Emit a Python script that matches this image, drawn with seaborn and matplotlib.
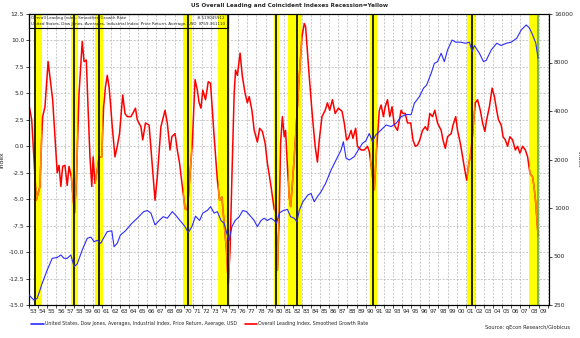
import numpy as np
import pandas as pd
import matplotlib
matplotlib.use("Agg")
import matplotlib.pyplot as plt
from matplotlib.lines import Line2D
from matplotlib.patches import Rectangle
import seaborn as sns

# ---------------- data ----------------
red_x = [1953.0, 1953.3, 1953.8, 1954.2, 1954.4, 1954.5, 1954.75, 1955.1, 1955.6, 1955.9,
         1956.1, 1956.3, 1956.5, 1956.7, 1956.95, 1957.2, 1957.4, 1957.65, 1958.0, 1958.2,
         1958.5, 1958.85, 1959.05, 1959.3, 1959.5, 1959.7, 1959.9, 1960.05, 1960.25, 1960.5,
         1960.7, 1961.0, 1961.2, 1961.4, 1961.6, 1961.8, 1961.95, 1962.15, 1962.45, 1962.7,
         1962.95, 1963.3, 1963.55, 1963.8, 1964.2, 1964.4, 1964.7, 1964.9, 1965.3, 1965.5,
         1965.8, 1966.2, 1966.5, 1966.85, 1967.1, 1967.5, 1967.95, 1968.2, 1968.5, 1968.7,
         1969.05, 1969.3, 1969.55, 1969.85, 1970.15, 1970.4, 1970.65, 1970.95, 1971.25, 1971.5,
         1971.7, 1971.9, 1972.1, 1972.4, 1972.7, 1972.95, 1973.3, 1973.7, 1973.95, 1974.2,
         1974.45, 1974.7, 1974.9, 1975.1, 1975.3, 1975.55, 1975.7, 1975.9, 1976.2, 1976.45,
         1976.75, 1977.0, 1977.2, 1977.5, 1977.75, 1978.1, 1978.35, 1978.65, 1978.95, 1979.2,
         1979.6, 1979.95, 1980.1, 1980.3, 1980.5, 1980.65, 1980.85, 1981.05, 1981.2, 1981.4,
         1981.6, 1981.75, 1981.95, 1982.3, 1982.7, 1983.0, 1983.25, 1983.4, 1983.8, 1984.15,
         1984.45, 1984.7, 1984.9, 1985.2, 1985.55, 1985.8, 1986.05, 1986.35, 1986.65, 1987.0,
         1987.4, 1987.65, 1987.9, 1988.1, 1988.4, 1988.6, 1988.9, 1989.1, 1989.5, 1989.85,
         1990.2, 1990.4, 1990.7, 1990.95, 1991.2, 1991.5, 1991.7, 1991.95, 1992.15, 1992.4,
         1992.65, 1992.9, 1993.15, 1993.5, 1993.9, 1994.1, 1994.35, 1994.6, 1994.95, 1995.2,
         1995.45, 1995.7, 1995.95, 1996.25, 1996.55, 1996.8, 1997.05, 1997.35, 1997.6, 1997.9,
         1998.3, 1998.5, 1998.75, 1999.0, 1999.4, 1999.6, 1999.9, 2000.1, 2000.4, 2000.65,
         2000.9, 2001.1, 2001.3, 2001.6, 2001.85, 2002.05, 2002.3, 2002.6, 2002.85, 2003.1,
         2003.3, 2003.6, 2003.9, 2004.15, 2004.4, 2004.6, 2004.9, 2005.1, 2005.35, 2005.6,
         2005.85, 2006.15, 2006.45, 2006.7, 2006.95, 2007.25, 2007.55, 2007.8, 2008.05, 2008.35,
         2008.5, 2008.7, 2008.9, 2008.95]
red_y = [3.9, 2.5, -5.1, -3.8, 0.9, 2.8, 3.7, 8.0, 4.4, 0.3,
         -2.5, -1.8, -3.8, -1.9, -1.8, -3.7, -1.9, -2.9, -6.3, -3.5,
         5.0, 9.9, 8.0, 8.15, 3.4, -1.0, -3.8, -1.0, -3.5, -2.25,
         -1.0, -1.0, 3.7, 5.6, 6.7, 5.6, 4.1, 1.85, -1.0, 0.0,
         1.2, 4.85, 3.1, 2.8, 2.8, 3.1, 3.6, 2.5, 1.85, 0.6,
         2.2, 2.0, -1.3, -5.1, -2.9, 1.85, 3.4, 2.2, -0.35, 0.9,
         1.2, -0.35, -1.6, -3.8, -5.9, -6.0, -3.2, 0.3, 6.3, 5.3,
         4.1, 3.6, 5.3, 4.4, 6.1, 5.95, 1.5, -3.2, -5.1, -4.8,
         -7.3, -9.8, -13.0, -9.8, -2.9, 5.0, 7.2, 6.7, 8.8, 6.6,
         5.0, 4.1, 4.7, 3.4, 1.5, 0.4, 1.7, 1.4, 0.3, -1.6,
         -3.8, -6.0, -5.9, -11.7, -6.7, 0.3, 2.8, 0.9, 1.5, -1.9,
         -4.8, -5.7, -3.5, 0.9, 6.6, 10.35, 11.6, 11.3, 6.6, 2.8,
         0.0, -1.5, 0.6, 2.8, 3.4, 4.1, 3.4, 4.4, 3.1, 3.6,
         3.3, 2.2, 0.6, 0.75, 1.5, 0.75, 1.7, 0.0, -0.35, -0.35,
         0.0, -0.5, -2.5, -4.1, -0.35, 3.4, 3.9, 2.8, 3.74, 4.4,
         2.8, 3.74, 2.0, 1.5, 3.4, 3.1, 3.1, 2.2, 2.2, 0.6,
         0.0, 0.1, 0.6, 1.5, 1.85, 1.5, 3.1, 2.8, 3.4, 2.2,
         1.5, 0.6, -0.2, 0.9, 1.2, 2.0, 2.8, 1.5, 0.3, -1.0,
         -2.25, -3.2, -1.9, -0.35, 2.2, 4.1, 4.4, 3.4, 2.2, 1.4,
         2.5, 3.74, 5.5, 4.7, 3.4, 2.5, 2.0, 0.9, 0.6, 0.0,
         0.9, 0.6, -0.35, 0.0, -0.65, 0.0, -0.35, -1.0, -2.55, -2.9,
         -3.8, -5.4, -7.9, -8.5]

blue_x = [1953.0, 1953.55, 1953.9, 1954.45, 1955.0, 1955.55, 1956.1, 1956.5, 1956.85, 1957.2,
          1957.6, 1957.95, 1958.3, 1958.85, 1959.4, 1959.8, 1960.15, 1960.5, 1960.9, 1961.25,
          1961.6, 1962.1, 1962.35, 1962.7, 1963.05, 1963.6, 1964.3, 1964.9, 1965.6, 1966.0,
          1966.4, 1966.85, 1967.3, 1967.75, 1968.2, 1968.75, 1969.1, 1969.7, 1970.15, 1970.5,
          1970.9, 1971.3, 1971.75, 1972.1, 1972.6, 1972.95, 1973.35, 1973.7, 1974.1, 1974.45,
          1974.85, 1975.0, 1975.3, 1975.65, 1976.1, 1976.5, 1976.9, 1977.4, 1977.75, 1978.1,
          1978.5, 1978.85, 1979.2, 1979.6, 1979.95, 1980.2, 1980.5, 1980.95, 1981.4, 1981.75,
          1982.15, 1982.45, 1982.7, 1983.1, 1983.65, 1984.0, 1984.35, 1984.7, 1985.1, 1985.6,
          1986.2, 1986.75, 1987.3, 1987.55, 1987.85, 1988.2, 1988.75, 1989.3, 1989.65, 1990.0,
          1990.4, 1990.75, 1991.1, 1991.7, 1992.25, 1992.8, 1993.35, 1993.9, 1994.45, 1995.0,
          1995.35, 1995.9, 1996.35, 1996.7, 1997.2, 1997.55, 1997.9, 1998.3, 1998.65, 1999.0,
          1999.5, 1999.9, 2000.45, 2000.95, 2001.4, 2001.7, 2001.95, 2002.5, 2002.95, 2003.25,
          2003.8, 2004.4, 2004.9, 2005.45, 2006.0, 2006.6, 2007.1, 2007.65, 2008.0, 2008.35,
          2008.7, 2008.95]
blue_y = [288, 268, 275, 341, 412, 487, 493, 511, 487, 487,
          511, 432, 450, 549, 648, 660, 618, 630, 604, 660,
          713, 722, 575, 604, 680, 722, 803, 864, 949, 965,
          930, 785, 836, 883, 864, 949, 905, 822, 766, 703,
          766, 890, 836, 930, 965, 1019, 930, 949, 836, 803,
          660, 630, 766, 836, 883, 965, 949, 883, 836, 766,
          836, 864, 836, 864, 836, 803, 930, 965, 980, 883,
          864, 822, 965, 1094, 1204, 1230, 1094, 1177, 1262, 1423,
          1722, 1986, 2292, 2580, 2035, 1986, 2083, 2348, 2521, 2600,
          2900, 2580, 2838, 3049, 3275, 3200, 3355, 3688, 3800, 3800,
          4467, 4908, 5533, 5800, 6855, 7900, 8100, 9128, 8100, 9570,
          11030, 10700, 10700, 10530, 10700, 9340, 10200, 9128, 8100, 8250,
          9570, 10530, 10200, 10530, 10700, 11300, 12740, 13680, 13100, 11860,
          10530, 8500]

rec_start = [1953.5, 1957.6, 1960.25, 1969.9, 1973.8, 1979.95, 1981.45, 1990.5, 2001.1, 2007.9]
rec_end = [1954.4, 1958.35, 1961.1, 1970.95, 1975.05, 1980.45, 1982.95, 1991.25, 2002.0, 2008.95]
turn_lines = [1953.65, 1958.0, 1960.7, 1970.45, 1974.9, 1980.2, 1982.45, 1990.8, 2001.7]
data_end = 2008.95

years = list(range(1953, 2011))
year_labels = [f"{y % 100:02d}" for y in range(1953, 2010)]
left_ticks = [12.5, 10.0, 7.5, 5.0, 2.5, 0.0, -2.5, -5.0, -7.5, -10.0, -12.5, -15.0]
right_ticks = [250, 500, 1000, 2000, 4000, 8000, 16000]

name_red = "Overall Leading Index, Smoothed Growth Rate"
name_blue = "United States, Dow Jones, Averages, Industrial Index, Price Return, Average, USD"
title = "US Overall Leading and Coincident Indexes Recession=Yellow"
source = "Source: qEcon Research/Globicus"
box_vals = ["-8.519045912", "8759.361110"]

# ---------------- figure ----------------
sns.set_style("white")
plt.rcParams['font.family'] = ['DejaVu Sans']
fs = 4.3

fig = plt.figure(figsize=(5.8, 3.38), dpi=100)
ax = fig.add_axes([29/580, 1-305/338, 520/580, 291/338])
ax2 = ax.twinx()

df_red = pd.DataFrame({"year": red_x, "value": red_y})
df_blue = pd.DataFrame({"year": blue_x, "value": blue_y})

band_patches = []
for s, e in zip(rec_start, rec_end):
    band_patches.append(ax.axvspan(s, e, color="#ffff00", lw=0, zorder=1))

sns.lineplot(data=df_red, x="year", y="value", ax=ax, color="#ff0000", lw=1.1, zorder=2)
# red line appears orange inside the yellow recession bands
for p in band_patches:
    ln, = ax.plot(df_red["year"], df_red["value"], color="#ff8c00", lw=1.1, zorder=2.5)
    ln.set_clip_path(p)

for t in turn_lines:
    ax.axvline(t, color="black", lw=1.2, zorder=4)
ax.axvline(data_end, color="#66aa33", lw=1.2, zorder=4)

sns.lineplot(data=df_blue, x="year", y="value", ax=ax2, color="#2b2bff", lw=0.8, zorder=5)
ax2.set_yscale("log", base=2)

ax.set_xlim(1953.0, 2010.15)
ax.set_ylim(-15.0, 12.5)
ax2.set_ylim(250, 16000)

ax.set_yticks(left_ticks)
ax.set_yticklabels([f"{v:.1f}" for v in left_ticks], fontsize=fs)
ax2.set_yticks(right_ticks)
ax2.set_yticklabels([str(v) for v in right_ticks], fontsize=fs)
ax2.minorticks_off()

ax.set_xticks(years)
ax.set_xticklabels([])
ax.set_xticks([y + 0.5 for y in range(1953, 2010)], minor=True)
ax.set_xticklabels(year_labels, minor=True, fontsize=fs)
ax.tick_params(axis="x", which="major", length=2.5, width=0.6, direction="out", bottom=True)
ax.tick_params(axis="x", which="minor", length=0, pad=3)
ax.tick_params(axis="y", length=2, width=0.6, left=True, pad=1.5)
ax2.tick_params(axis="y", length=2, width=0.6, right=True, pad=1.5)

ax.grid(True, which="major", axis="both", color="#b5b5b5", ls=(0, (3, 2)), lw=0.5, zorder=0)
ax.set_axisbelow(True)

for sp in ax.spines.values():
    sp.set_color("black"); sp.set_linewidth(0.8)
for sp in ax2.spines.values():
    sp.set_color("black"); sp.set_linewidth(0.8)

ax.set_xlabel("")
ax.set_ylabel("Index", fontsize=fs, labelpad=3)
ax2.set_ylabel("Index", fontsize=fs, rotation=270, labelpad=6)

# top-left info box
bw = (228 - 29) / 520
bh = (28 - 14) / 291
ax2.add_patch(Rectangle((0, 1 - bh), bw, bh, transform=ax2.transAxes, facecolor="none",
                        ec="black", lw=0.8, zorder=10, clip_on=False))
bfs = 3.0
ax2.text(0.004, 1 - bh * 0.27, name_red, transform=ax2.transAxes, fontsize=bfs,
         va="center", ha="left", zorder=11)
ax2.text(0.004, 1 - bh * 0.73, name_blue, transform=ax2.transAxes, fontsize=bfs,
         va="center", ha="left", zorder=11)
ax2.text(bw - 0.004, 1 - bh * 0.27, box_vals[0], transform=ax2.transAxes, fontsize=bfs,
         va="center", ha="right", zorder=11)
ax2.text(bw - 0.004, 1 - bh * 0.73, box_vals[1], transform=ax2.transAxes, fontsize=bfs,
         va="center", ha="right", zorder=11)

if ax.get_legend():
    ax.get_legend().remove()
if ax2.get_legend():
    ax2.get_legend().remove()

fig.text(0.5, 1 - 6/338, title, ha="center", va="center", fontsize=4.1, fontweight="bold")

handles = [Line2D([0], [0], color="#2b2bff", lw=1.2), Line2D([0], [0], color="#ff0000", lw=1.2)]
fig.legend(handles, [name_blue, name_red], loc="center left", bbox_to_anchor=(29/580, 1 - 324/338),
           ncol=2, frameon=False, fontsize=3.4, handlelength=2.6, handletextpad=0.3,
           columnspacing=1.6, borderpad=0)
fig.text(570/580, 1 - 328/338, source, ha="right", va="center", fontsize=3.7)

fig.savefig("out.png", dpi=100)
